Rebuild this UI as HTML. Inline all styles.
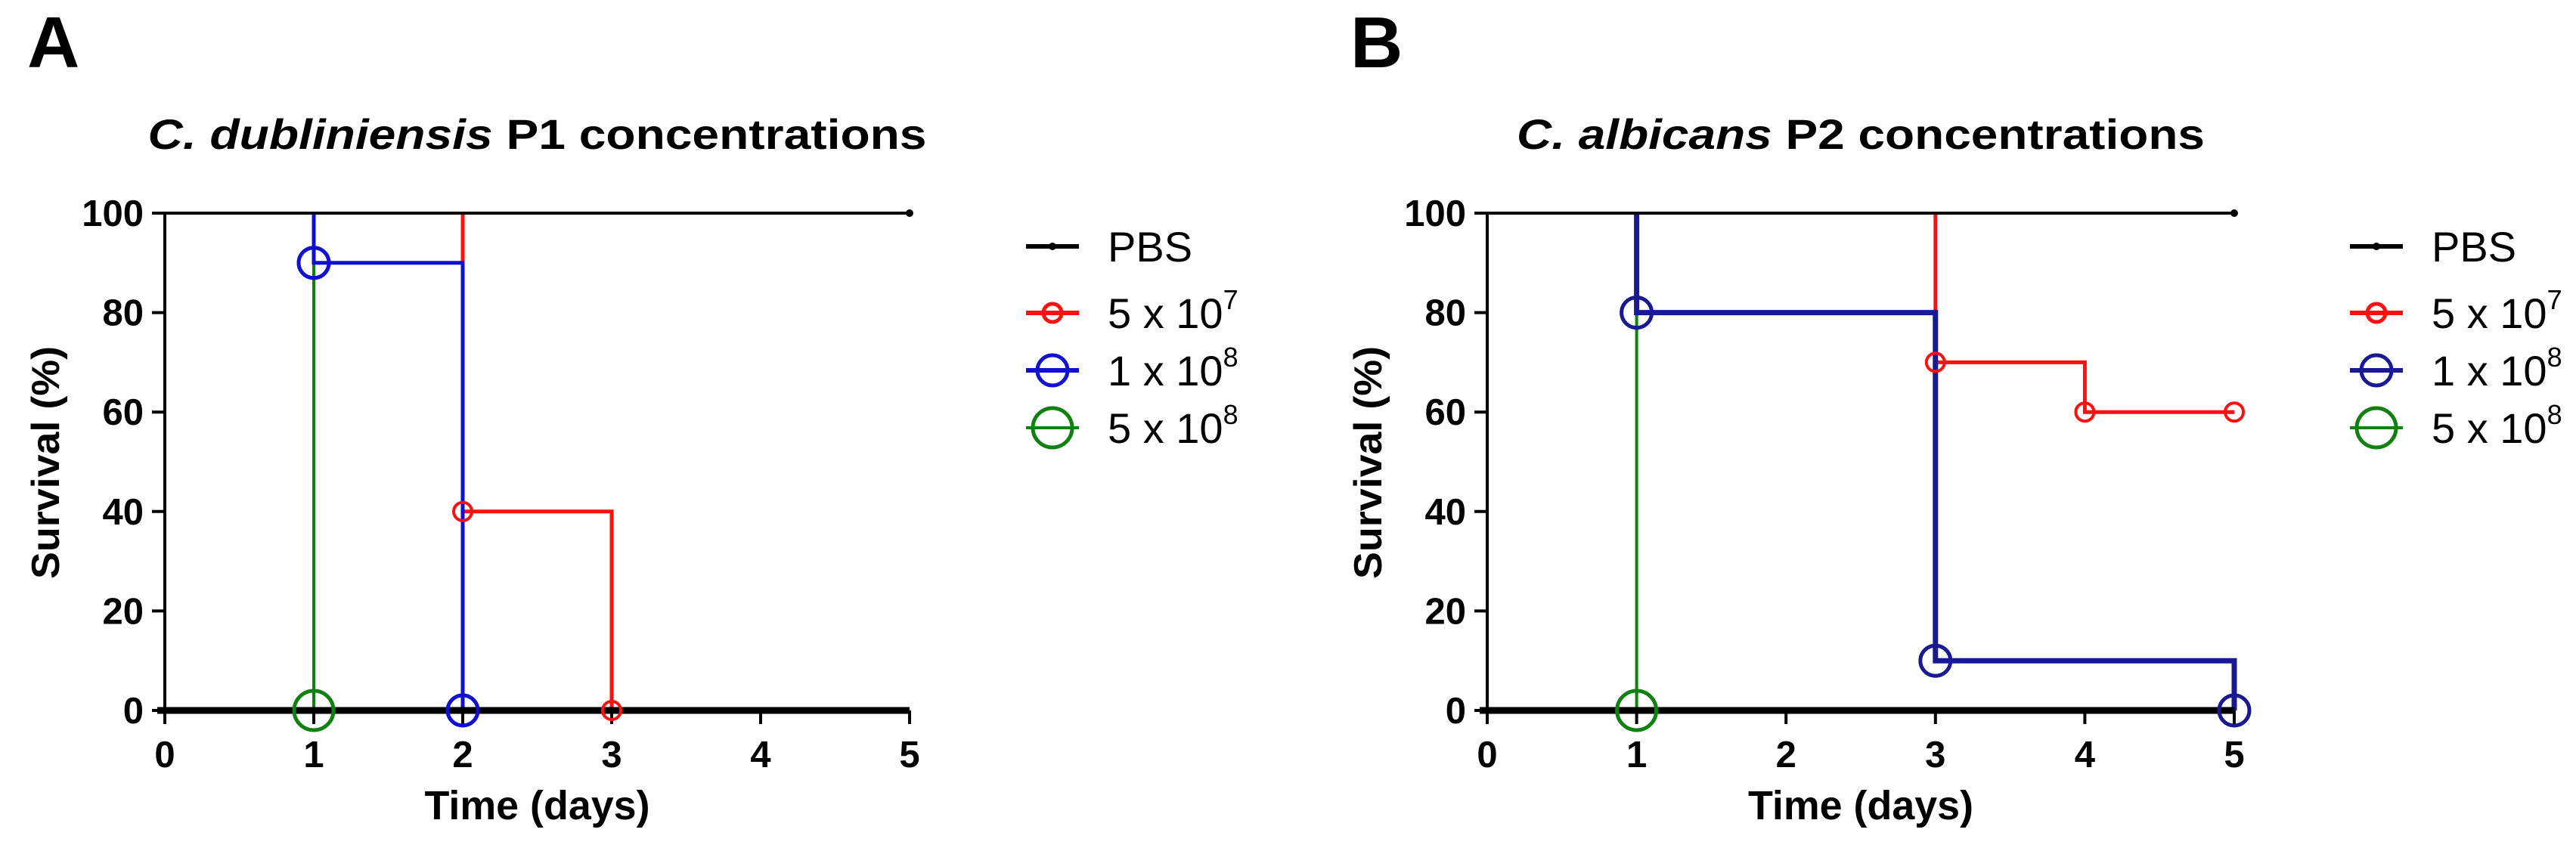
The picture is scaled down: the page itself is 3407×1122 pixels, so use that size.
<!DOCTYPE html>
<html><head><meta charset="utf-8"><style>
html,body{margin:0;padding:0;background:#fff;}
svg{display:block;font-family:"Liberation Sans",Arial,sans-serif;}
</style></head><body>
<svg id="fig" width="3407" height="1122" viewBox="0 0 3407 1122" xmlns="http://www.w3.org/2000/svg"></svg>
<script>
// ---- data ----
const xTicks = [0,1,2,3,4,5];
const yTicks = [0,20,40,60,80,100];
const legendLabels = ["PBS","5 x 10","1 x 10","5 x 10"];
const legendExps = ["","7","8","8"];
// Panel A step curves: [time, survival]
const aPBS = [[0,100],[5,100]];
const aRed = [[0,100],[2,100],[2,40],[3,40],[3,0]];
const aBlue = [[0,100],[1,100],[1,90],[2,90],[2,0]];
const aGreen = [[0,100],[1,100],[1,0]];
const aRedMarks = [[2,40],[3,0]];
const aBlueMarks = [[1,90],[2,0]];
const aGreenMarks = [[1,0]];
// Panel B
const bPBS = [[0,100],[5,100]];
const bRed = [[0,100],[3,100],[3,70],[4,70],[4,60],[5,60]];
const bBlue = [[0,100],[1,100],[1,80],[3,80],[3,10],[5,10],[5,0]];
const bGreen = [[0,100],[1,100],[1,0]];
const bRedMarks = [[3,70],[4,60],[5,60]];
const bBlueMarks = [[1,80],[3,10],[5,0]];
const bGreenMarks = [[1,0]];

const NS="http://www.w3.org/2000/svg";
const svg=document.getElementById('fig');
function mk(tag,attrs,parent){const e=document.createElementNS(NS,tag);for(const k in attrs)e.setAttribute(k,attrs[k]);(parent||svg).appendChild(e);return e;}

function panel(cfg){
  const g=mk('g',{});
  
  
  const x0=cfg.x0, x5=cfg.x5, yTop=282, yBot=940;
  const sx=t=>x0+(x5-x0)*t/5;
  const sy=v=>yBot-(yBot-yTop)*v/100;
  const L=mk('text',{x:cfg.lx,y:89,'font-size':96,'font-weight':'bold'},g);L.textContent=cfg.letter;
  
  
  const T=mk('text',{x:(x0+x5)/2,y:197,'font-size':56,'font-weight':'bold','text-anchor':'middle',textLength:cfg.tw,lengthAdjust:'spacingAndGlyphs'},g);
  
  
  const ti=mk('tspan',{'font-style':'italic'},T);ti.textContent=cfg.titleItal;
  const tr=mk('tspan',{},T);tr.textContent=cfg.titleRest;
  const ya=mk('line',{x1:x0,y1:yTop,x2:x0,y2:yBot,stroke:'#000','stroke-width':4},g);
  
  
  yTicks.forEach(v=>{
    mk('line',{x1:x0-17,y1:sy(v),x2:x0,y2:sy(v),stroke:'#000','stroke-width':4},g);
    const t=mk('text',{x:x0-28,y:sy(v)+17,'font-size':49,'font-weight':'bold','text-anchor':'end'},g);
    t.textContent=v;
    
    
  });
  xTicks.forEach(v=>{
    mk('line',{x1:sx(v),y1:yBot,x2:sx(v),y2:yBot+18,stroke:'#000','stroke-width':4},g);
    const t=mk('text',{x:sx(v),y:1015,'font-size':49,'font-weight':'bold','text-anchor':'middle'},g);
    t.textContent=v;
    
    
  });
  const xt=mk('text',{x:(x0+x5)/2,y:1084,'font-size':54,'font-weight':'bold','text-anchor':'middle',textLength:298,lengthAdjust:'spacingAndGlyphs'},g);
  xt.textContent='Time (days)';
  
  
  const yt=mk('text',{x:0,y:0,'font-size':52,'font-weight':'bold','text-anchor':'middle',textLength:308,lengthAdjust:'spacingAndGlyphs',transform:`translate(${x0-140},612) rotate(-90)`},g);
  yt.textContent='Survival (%)';
  
  
  // skip the leading segment at 100% (hidden under the PBS line in the original)
  const trim=pts=>{let k=0;while(k+1<pts.length&&pts[k+1][1]===100)k++;return pts.slice(k);};
  const path=(pts,col,w,name)=>{
    const p=mk('polyline',{points:pts.map(q=>sx(q[0])+','+sy(q[1])).join(' '),fill:'none',stroke:col,'stroke-width':w},g);
    
    
  };
  const marks=(pts,col,r,w,name)=>pts.forEach(q=>{
    const c=mk('circle',{cx:sx(q[0]),cy:sy(q[1]),r:r,fill:'none',stroke:col,'stroke-width':w},g);
    
    
  });
  path(trim(cfg.green),'#108010',4,'green-line');
  path(trim(cfg.red),'#ff1010',5,'red-line');
  path(trim(cfg.blue),cfg.blueCol,cfg.blueW,'blue-line');
  path(cfg.pbs,'#000',4,'pbs-line');
  const z=mk('line',{x1:x0-10,y1:yBot,x2:x5,y2:yBot,stroke:'#000','stroke-width':9},g);
  
  
  mk('circle',{cx:sx(5),cy:sy(100),r:5,fill:'#000'},g);
  marks(cfg.redM,'#ff1010',12,4,'red-marker');
  marks(cfg.blueM,cfg.blueCol,20,5,'blue-marker');
  marks(cfg.greenM,'#108010',26,5,'green-marker');
  const ly=[326,414,490,566];
  const cols=['#000','#ff1010',cfg.blueCol,'#108010'];
  const rr=[0,12,20,26];
  const lx=cfg.legX;
  for(let i=0;i<4;i++){
    const lg=mk('g',{},g);
    
    
    mk('line',{x1:lx,y1:ly[i],x2:lx+70,y2:ly[i],stroke:cols[i],'stroke-width':i==0?6:(i==3?4:6)},lg);
    if(i==0)mk('circle',{cx:lx+35,cy:ly[i],r:5,fill:'#000'},lg);
    else mk('circle',{cx:lx+35,cy:ly[i],r:rr[i],fill:'none',stroke:cols[i],'stroke-width':5},lg);
    const t=mk('text',{x:lx+108,y:ly[i]+20,'font-size':56},lg);
    t.textContent=legendLabels[i];
    if(legendExps[i]){const s=mk('tspan',{dy:-25,'font-size':36},t);s.textContent=legendExps[i];}
  }
}
panel({id:'a',letter:'A',lx:36,x0:218,x5:1203,tw:1030,titleItal:'C. dubliniensis',titleRest:' P1 concentrations',
  pbs:aPBS,red:aRed,blue:aBlue,green:aGreen,redM:aRedMarks,blueM:aBlueMarks,greenM:aGreenMarks,blueCol:'#1010d0',blueW:5,legX:1357});
panel({id:'b',letter:'B',lx:1786,x0:1967,x5:2955,tw:910,titleItal:'C. albicans',titleRest:' P2 concentrations',
  pbs:bPBS,red:bRed,blue:bBlue,green:bGreen,redM:bRedMarks,blueM:bBlueMarks,greenM:bGreenMarks,blueCol:'#1a1a90',blueW:7,legX:3108});
</script>
</body></html>
